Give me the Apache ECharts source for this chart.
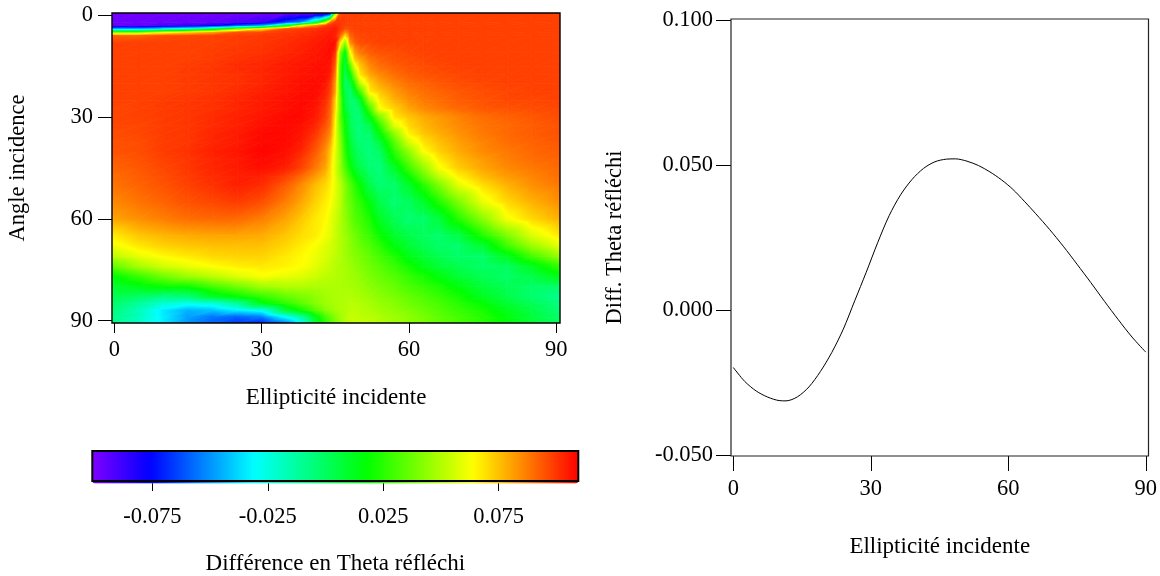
<!DOCTYPE html>
<html><head><meta charset="utf-8">
<style>html,body{margin:0;padding:0;background:#fff}#c{width:1160px;height:576px}</style>
<script src="https://cdn.jsdelivr.net/npm/echarts@6/dist/echarts.min.js"></script>
</head><body><div id="c"></div>
<script>
// Ellipticity columns (first and last are stretched to the frame when drawn)
const ellipCols = [0,5,10,15,20,25,30,35,38,41,43,44,45,46,47,48,49,50,52,54,57,60,63,66,70,75,80,85,90];
const angleRows = [0,2,3,4,5,6,8,11,13,15,17.5,20,22.5,25,27.5,30,32.5,35,37.5,40,42.5,45,47.5,50,55,60,65,68,71,74,77,80,83,85,87,89,90];
// Difference in thousandths, one row per angle
const diffGrid = [
[-98,-98,-98,-98,-98,-98,-98,-98,-98,-98,-98,-85,40,96,98,98,98,98,98,98,98,98,98,98,98,98,98,98,98],
[-97,-97,-96,-96,-95,-92,-88,-65,-50,0,50,90,100,100,99,98,98,98,98,98,98,98,98,98,98,98,98,98,98],
[-95,-95,-90,-85,-78,-60,-45,10,64,85,98,102,103,100,98,98,98,98,98,98,98,98,98,98,98,98,98,98,98],
[-45,-45,-31,-20,5,40,68,96,99,101,103,104,105,100,95,97,98,98,98,98,98,98,98,98,98,98,98,98,98],
[40,40,60,70,80,95,97,100,101,103,104,105,105,97,85,95,97,98,98,98,98,98,98,98,98,98,98,98,98],
[92,92,96,97,98,99,100,101,102,104,105,106,104,92,70,92,96,97,98,98,98,98,98,98,98,98,98,98,98],
[98,98,98,98,98,99,100,102,103,105,106,107,107,70,45,85,93,96,97,98,98,98,98,98,98,98,98,98,98],
[98,98,98,98,99,100,101,103,104,106,107,108,100,40,15,62,82,88,93,95,96,97,98,98,98,98,98,98,98],
[98,98,98,98,99,101,102,104,105,106,107,107,96,35,8,50,74,80,89,92,95,96,97,98,98,98,98,98,98],
[98,98,98,99,100,102,103,105,106,107,107,106,92,30,5,33,62,74,85,90,93,95,96,97,98,98,98,98,98],
[98,98,98,99,100,101,103,105,106,107,107,104,87,30,2,18,46,68,80,85,90,93,95,96,97,98,98,98,98],
[98,98,98,99,100,101,103,106,107,108,106,100,82,30,-2,5,28,53,72,80,86,90,92,94,96,97,98,98,98],
[98,98,98,99,100,102,104,106,107,108,104,98,80,33,3,-4,12,31,67,74,82,87,90,92,94,96,97,98,98],
[98,98,99,100,101,103,105,107,108,107,102,94,72,36,6,-3,-3,10,49,68,78,84,88,90,93,95,97,97,98],
[97,98,99,100,101,103,105,107,108,106,100,92,70,36,10,-1,-5,0,30,63,72,80,85,88,91,94,95,96,97],
[97,98,99,100,102,104,106,108,108,105,98,90,66,34,16,3,-4,-4,16,40,68,74,79,82,86,90,92,94,96],
[97,97,99,100,102,104,107,108,107,103,95,88,64,37,18,4,-3,-5,4,26,58,71,77,81,85,89,91,93,95],
[96,97,99,100,103,105,108,108,106,100,91,84,62,40,20,6,-2,-5,-2,16,43,66,74,78,83,88,91,93,95],
[95,96,99,100,103,105,108,108,105,97,88,79,61,42,23,9,0,-4,-5,6,33,56,69,75,81,86,90,92,94],
[95,96,99,101,104,106,109,107,103,94,84,74,60,44,25,12,3,-2,-6,0,26,45,64,72,79,85,88,91,93],
[93,95,98,100,103,105,108,106,100,91,83,72,58,45,28,15,6,1,-5,-4,19,37,54,67,76,82,87,90,92],
[92,94,97,100,103,105,107,104,98,88,80,70,58,45,32,20,10,4,-3,-6,10,29,45,62,73,80,85,88,91],
[90,93,96,99,102,104,104,98,91,82,75,69,59,48,37,27,18,11,0,-5,3,19,36,52,66,76,82,86,90],
[89,92,95,98,101,104,102,93,85,76,71,67,60,52,42,33,25,18,4,-4,-2,10,25,40,59,70,78,84,88],
[85,89,92,95,97,99,96,87,80,72,67,64,58,52,42,36,30,26,16,4,-4,0,10,23,40,60,71,78,84],
[80,84,87,90,91,91,87,80,74,68,65,60,55,50,44,38,33,30,22,12,2,-4,-2,6,24,43,62,71,78],
[67,74,77,79,80,80,79,74,70,67,62,59,54,50,46,42,38,34,28,20,10,4,0,-3,4,23,40,57,68],
[61,68,72,74,75,75,75,71,67,63,58,56,53,50,47,43,40,37,32,26,16,8,3,-2,-3,8,29,46,59],
[52,60,65,68,71,72,72,68,65,61,57,55,52,50,47,44,42,40,35,30,23,14,8,3,-2,-2,12,30,46],
[35,48,56,60,64,67,68,66,64,59,55,53,51,49,48,46,44,42,38,34,28,21,14,8,3,-2,0,12,27],
[16,28,38,46,52,58,63,60,58,55,52,51,50,49,48,47,46,44,40,37,33,27,22,16,8,2,-2,4,14],
[8,14,19,20,30,38,47,50,50,49,49,49,49,49,48,48,47,46,43,40,36,31,27,23,16,7,2,-2,-3],
[2,-2,-8,-5,10,18,27,36,40,44,47,48,49,49,50,50,49,48,46,43,40,36,32,28,22,12,4,-3,-9],
[-2,-12,-23,-28,-25,-12,14,26,34,42,46,47,48,49,50,51,51,50,48,45,42,38,34,31,25,18,9,2,-6],
[-5,-18,-35,-45,-42,-34,-28,8,20,34,42,45,47,49,50,52,52,51,49,47,44,41,37,33,28,22,13,5,-4],
[-7,-18,-34,-48,-56,-60,-55,-30,-15,14,30,36,42,47,50,53,53,52,51,49,46,43,39,35,30,24,16,7,-2],
[-8,-20,-34,-50,-58,-66,-70,-52,-28,8,26,33,40,46,50,53,54,53,52,50,47,44,40,36,31,25,17,8,-1]
];
// Right-hand curve
const curveX = [0,2.5,5,7.5,10,11.5,14,16.5,19,21.5,24,26.5,29,31.5,34,36.5,39,41.5,44,46.5,48.5,51,53.5,56,58.5,61,63.5,66,69,72,75,78,81,84,87,90];
const curveY = [-0.0198,-0.0246,-0.0279,-0.03,-0.0312,-0.0313,-0.0299,-0.0265,-0.0212,-0.0146,-0.0066,0.0032,0.013,0.0232,0.0325,0.0397,0.045,0.0488,0.0511,0.052,0.0521,0.0513,0.0498,0.0476,0.0449,0.0416,0.0375,0.0332,0.0278,0.022,0.0158,0.0095,0.003,-0.0033,-0.0093,-0.0145];
const degTicks = [0,30,60,90];
const barTicks = [-0.075,-0.025,0.025,0.075];
const diffTicks = [-0.05,0,0.05,0.1];

const FONT = 'Liberation Serif';
const TICK = 22.5, NAME = 23;
// Colour scale: value, r, g, b
const ramp = [[-101,127,0,255],[-76,0,0,255],[-31,0,255,255],[18,0,255,0],[64,255,255,0],[109.5,255,0,0]];
function col(v){
  if(v<=ramp[0][0]) v=ramp[0][0];
  if(v>=ramp[5][0]) v=ramp[5][0];
  for(let i=0;i<5;i++){const a=ramp[i],b=ramp[i+1];
    if(v<=b[0]){const t=(v-a[0])/(b[0]-a[0]);
      return 'rgb('+[1,2,3].map(k=>Math.round(a[k]+(b[k]-a[k])*t)).join(',')+')';}}
}
const legendColors=[];
for(let i=0;i<=105;i++) legendColors.push(col(-101+210.5*i/105));

const cells=[];
const N=ellipCols.length, M=angleRows.length;
const px=i=>i===0?-0.5:(i===N-1?90.75:ellipCols[i]);
const py=j=>j===0?-0.7:(j===M-1?90.7:angleRows[j]);
for(let j=0;j<M-1;j++)for(let i=0;i<N-1;i++){
  cells.push([px(i),px(i+1),py(j),py(j+1),diffGrid[j][i],diffGrid[j][i+1],diffGrid[j+1][i],diffGrid[j+1][i+1]]);
}
function tri(P,V){
  const d=(P[1][0]-P[0][0])*(P[2][1]-P[0][1])-(P[2][0]-P[0][0])*(P[1][1]-P[0][1]);
  const dv1=V[1]-V[0],dv2=V[2]-V[0];
  const a=(dv1*(P[2][1]-P[0][1])-dv2*(P[1][1]-P[0][1]))/d;
  const b=(dv2*(P[1][0]-P[0][0])-dv1*(P[2][0]-P[0][0]))/d;
  const g2=a*a+b*b;
  const lo=Math.min(...V),hi=Math.max(...V);
  let fill;
  if(g2<1e-9||hi-lo<1e-6){fill=col(V[0]);}
  else{
    const k=V.indexOf(lo);
    const s=P[k],e=[s[0]+a/g2*(hi-lo),s[1]+b/g2*(hi-lo)];
    const stops=[{offset:0,color:col(lo)}];
    ramp.forEach(r=>{if(r[0]>lo&&r[0]<hi)stops.push({offset:(r[0]-lo)/(hi-lo),color:col(r[0])});});
    stops.push({offset:1,color:col(hi)});
    fill=new echarts.graphic.LinearGradient(s[0],s[1],e[0],e[1],stops,true);
  }
  return {type:'polygon',shape:{points:P},style:{fill:fill,stroke:fill,lineWidth:0.8}};
}
function renderCell(p,api){
  const x0=api.value(0),x1=api.value(1),y0=api.value(2),y1=api.value(3);
  const v=[api.value(4),api.value(5),api.value(6),api.value(7)];
  const A=api.coord([x0,y0]),B=api.coord([x1,y0]),C=api.coord([x0,y1]),D=api.coord([x1,y1]);
  return {type:'group',children:[tri([A,B,C],[v[0],v[1],v[2]]),tri([B,D,C],[v[1],v[3],v[2]])]};
}
const txt={fontFamily:FONT,color:'#000'};
const noLine={show:false,onZero:false};
const chart=echarts.init(document.getElementById('c'),null,{renderer:'canvas'});
chart.setOption({
  animation:false,backgroundColor:'#fff',
  grid:[
    {left:112,top:13,width:448,height:310,show:true,z:10,borderColor:'#000',borderWidth:1.4,backgroundColor:'transparent'},
    {left:92.3,top:451,width:486,height:32.5,show:true,z:10,borderColor:'#000',borderWidth:2,backgroundColor:'transparent'},
    {left:731,top:19,width:418,height:437,show:true,z:10,borderColor:'#222',borderWidth:1.2,backgroundColor:'transparent'}
  ],
  xAxis:[
    {gridIndex:0,type:'value',min:-0.5,max:90.75,splitLine:{show:false},axisLine:noLine,
     axisTick:{show:true,length:10,customValues:degTicks,lineStyle:{color:'#000'}},
     axisLabel:{show:true,customValues:degTicks,margin:16,fontSize:TICK,...txt},
     name:'Ellipticité incidente',nameLocation:'middle',nameGap:63,nameTextStyle:{fontSize:NAME,...txt}},
    {gridIndex:1,type:'value',min:-0.101,max:0.1095,splitLine:{show:false},axisLine:noLine,
     axisTick:{show:true,length:10,customValues:barTicks,lineStyle:{color:'#000'}},
     axisLabel:{show:true,customValues:barTicks,margin:25,fontSize:TICK,formatter:v=>v.toFixed(3),...txt},
     name:'Différence en Theta réfléchi',nameLocation:'middle',nameGap:71,nameTextStyle:{fontSize:NAME,...txt}},
    {gridIndex:2,type:'value',min:-0.5,max:90.6,splitLine:{show:false},axisLine:noLine,
     axisTick:{show:true,length:15,customValues:degTicks,lineStyle:{color:'#000'}},
     axisLabel:{show:true,customValues:degTicks,margin:22,fontSize:TICK,...txt},
     name:'Ellipticité incidente',nameLocation:'middle',nameGap:79,nameTextStyle:{fontSize:NAME,...txt}}
  ],
  yAxis:[
    {gridIndex:0,type:'value',inverse:true,min:-0.7,max:90.7,splitLine:{show:false},axisLine:noLine,
     axisTick:{show:true,length:14,customValues:degTicks,lineStyle:{color:'#000'}},
     axisLabel:{show:true,customValues:degTicks,margin:19,fontSize:TICK,...txt},
     name:'Angle incidence',nameLocation:'middle',nameGap:82,nameTextStyle:{fontSize:22.5,...txt}},
    {gridIndex:1,type:'value',min:0,max:1,show:false},
    {gridIndex:2,type:'value',min:-0.0503,max:0.1003,splitLine:{show:false},axisLine:noLine,
     axisTick:{show:true,length:15,customValues:diffTicks,lineStyle:{color:'#000'}},
     axisLabel:{show:true,customValues:diffTicks,margin:18,fontSize:TICK,formatter:v=>v.toFixed(3),...txt},
     name:'Diff. Theta réfléchi',nameLocation:'middle',nameGap:104,nameTextStyle:{fontSize:22.5,...txt}}
  ],
  visualMap:[{type:'continuous',min:-101,max:109.5,orient:'horizontal',left:92.3,top:451,padding:0,
    itemHeight:486,itemWidth:32.5,text:null,calculable:false,realtime:false,seriesIndex:0,dimension:4,
    showLabel:false,inRange:{color:legendColors},hoverLink:false}],
  series:[
    {type:'custom',xAxisIndex:0,yAxisIndex:0,z:2,silent:true,renderItem:renderCell,data:cells,
     encode:{x:[0,1],y:[2,3]},clip:true,animation:false},
    {type:'line',xAxisIndex:2,yAxisIndex:2,data:curveX.map((x,i)=>[x,curveY[i]]),smooth:0.3,showSymbol:false,
     lineStyle:{color:'#000',width:1},silent:true}
  ]
});
</script></body></html>
